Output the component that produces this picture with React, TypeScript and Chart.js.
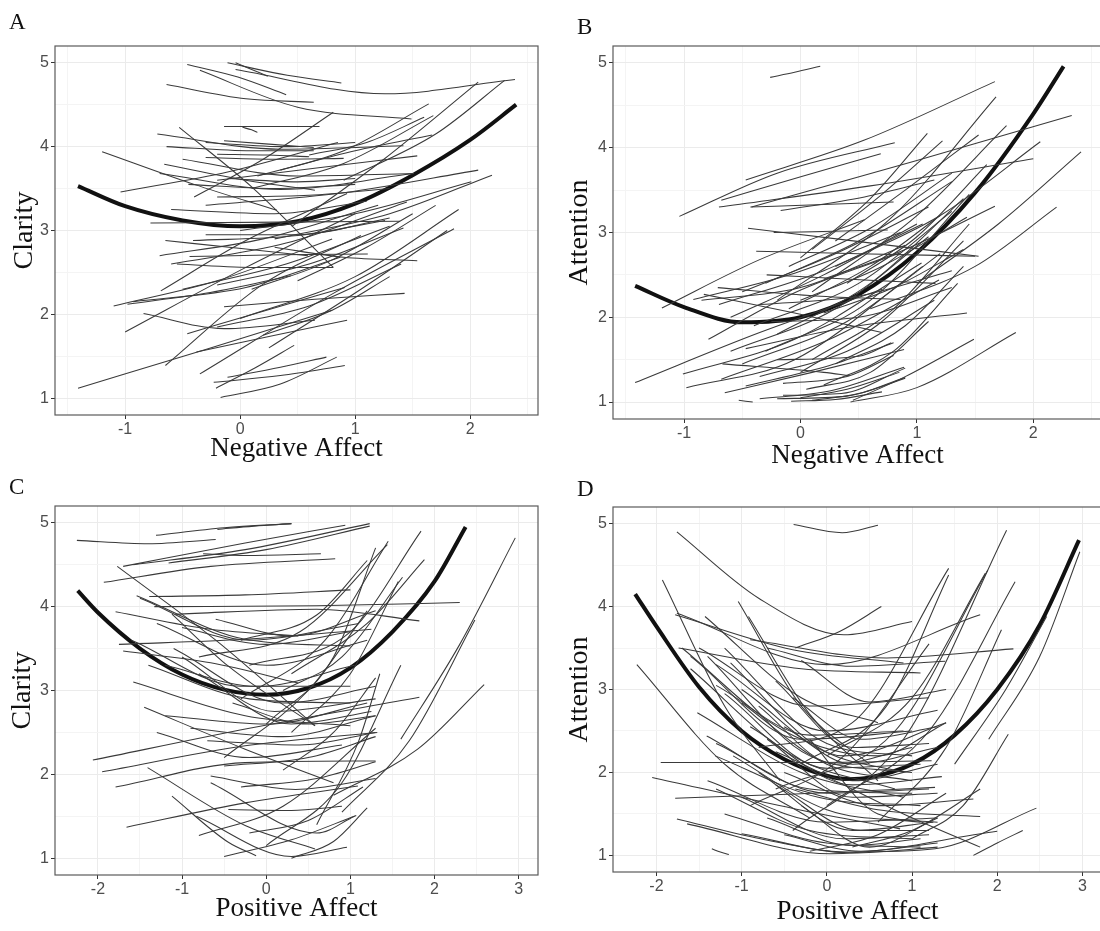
import React, { useEffect, useRef } from "react";
import { Chart, registerables } from "chart.js";

Chart.register(...registerables);

// ---------- tick values ----------
const yMajor = [1, 2, 3, 4, 5];
const yMinor = [1.5, 2.5, 3.5, 4.5];
const xMajorNeg = [-1, 0, 1, 2];
const xMinorNeg = [-1.5, -0.5, 0.5, 1.5, 2.5];
const xMajorPos = [-2, -1, 0, 1, 2, 3];
const xMinorPos = [-1.5, -0.5, 0.5, 1.5, 2.5];

// ---------- average (thick) curves: x,y pairs ----------
const meanA = [-1.41, 3.53, -1.0, 3.29, -0.5, 3.12, 0, 3.05, 0.5, 3.11, 1.0, 3.32, 1.5, 3.66, 2.0, 4.08, 2.4, 4.5];
const meanB = [-1.42, 2.37, -1.0, 2.12, -0.5, 1.94, 0, 2.0, 0.5, 2.27, 1.0, 2.76, 1.5, 3.47, 2.0, 4.4, 2.26, 4.96];
const meanC = [-2.24, 4.19, -2.0, 3.93, -1.5, 3.5, -1.0, 3.19, -0.5, 3.01, 0, 2.95, 0.5, 3.03, 1.0, 3.27, 1.5, 3.7, 2.0, 4.3, 2.37, 4.95];
const meanD = [-2.25, 4.15, -2.0, 3.76, -1.5, 3.03, -1.0, 2.5, -0.5, 2.16, 0, 1.96, 0.25, 1.92, 0.5, 1.94, 1.0, 2.1, 1.5, 2.45, 2.0, 3.0, 2.5, 3.78, 2.96, 4.8];

// ---------- individual (thin) curves: x,y pairs ----------
const thinA = [
  [-0.46, 4.98, -0.02, 4.83, 0.4, 4.62],
  [-0.11, 5.0, 0.41, 4.85, 0.88, 4.76],
  [-0.04, 5.0, 0.1, 4.92, 0.24, 4.84],
  [-0.35, 4.91, 0.5, 4.47, 1.49, 4.33],
  [-0.04, 4.92, 1.26, 4.63, 2.39, 4.8],
  [-0.64, 4.74, 0.05, 4.57, 0.64, 4.53],
  [0.45, 3.05, 1.25, 3.85, 2.07, 4.77],
  [0.9, 3.6, 1.7, 4.15, 2.3, 4.79],
  [0.15, 3.65, 0.9, 3.95, 1.64, 4.51],
  [0.1, 3.5, 0.9, 3.8, 1.68, 4.37],
  [0.35, 3.72, 1.0, 3.95, 1.67, 4.14],
  [-0.2, 3.6, 0.7, 3.75, 1.54, 3.89],
  [-0.14, 4.24, 0.28, 4.24, 0.69, 4.24],
  [0.02, 4.23, 0.1, 4.2, 0.15, 4.17],
  [-0.14, 4.07, 0.25, 4.03, 0.64, 3.99],
  [-0.72, 4.15, 0.35, 3.97, 1.42, 4.01],
  [-0.64, 4.0, 0.1, 3.95, 0.64, 3.95],
  [-0.53, 4.23, 0.1, 3.52, 0.81, 2.56],
  [-1.2, 3.94, -0.4, 3.55, 0.32, 3.24],
  [-1.04, 3.46, -0.1, 3.7, 0.85, 4.05],
  [-0.4, 3.4, 0.2, 3.85, 0.81, 4.41],
  [-0.78, 3.09, 0.35, 3.1, 1.39, 3.11],
  [-0.7, 3.68, 0.35, 3.49, 1.51, 3.68],
  [-0.66, 3.79, 0.05, 3.6, 0.65, 3.48],
  [-0.69, 2.28, 0.05, 2.88, 0.93, 3.44],
  [-0.65, 2.88, 0.05, 2.78, 0.59, 2.7],
  [-0.65, 1.39, 0.2, 2.36, 1.05, 2.94],
  [-0.55, 2.6, 0.14, 2.56, 0.81, 2.56],
  [-0.44, 2.69, 0.35, 2.71, 1.11, 2.72],
  [-1.41, 1.12, -0.3, 1.58, 0.8, 2.05],
  [-1.0, 1.79, 0.05, 2.56, 1.0, 3.2],
  [-0.98, 2.12, -0.26, 2.26, 0.44, 2.46],
  [-0.93, 2.15, 0.05, 2.32, 0.87, 2.68],
  [-0.84, 2.01, -0.14, 1.83, 0.65, 1.93],
  [-0.46, 1.77, 0.23, 2.05, 0.91, 2.32],
  [-0.38, 1.55, 0.23, 1.73, 0.93, 1.93],
  [-0.35, 1.29, 0.81, 2.25, 1.86, 3.02],
  [-0.23, 1.19, 0.35, 1.27, 0.91, 1.39],
  [-0.21, 1.12, 0.14, 1.37, 0.47, 1.63],
  [-0.17, 1.01, 0.35, 1.17, 0.84, 1.49],
  [-0.11, 1.25, 0.35, 1.37, 0.75, 1.49],
  [-0.14, 2.09, 0.65, 2.18, 1.43, 2.25],
  [0.0, 1.95, 1.0, 2.45, 1.9, 3.25],
  [0.3, 2.9, 1.3, 3.2, 2.19, 3.66],
  [0.0, 3.0, 1.0, 3.2, 2.01, 3.58],
  [-0.3, 3.3, 0.9, 3.45, 2.07, 3.72],
  [-0.6, 2.6, 0.4, 2.85, 1.45, 3.34],
  [-0.2, 2.35, 0.6, 2.6, 1.42, 3.03],
  [0.3, 2.8, 0.9, 2.68, 1.54, 2.64],
  [-0.5, 3.85, 0.5, 3.65, 1.51, 3.68],
  [-0.2, 3.91, 0.25, 3.9, 0.6, 3.88],
  [-0.41, 2.88, 0.5, 2.94, 1.26, 3.12],
  [0.25, 1.6, 1.05, 2.3, 1.8, 3.0],
  [-0.3, 3.87, 0.3, 3.85, 0.9, 3.86],
  [-0.1, 3.62, 0.5, 3.58, 1.0, 3.62],
  [-0.45, 3.55, 0.3, 3.5, 1.0, 3.55],
  [-0.2, 3.4, 0.6, 3.42, 1.3, 3.5],
  [-0.6, 3.25, 0.3, 3.2, 1.1, 3.35],
  [-0.3, 2.95, 0.5, 2.95, 1.3, 3.15],
  [-0.7, 2.7, 0.2, 2.9, 1.2, 3.3],
  [-0.5, 2.3, 0.4, 2.6, 1.3, 3.05],
  [0.1, 2.3, 0.8, 2.65, 1.5, 3.2],
  [-0.2, 1.85, 0.6, 2.1, 1.4, 2.6],
  [0.2, 1.75, 0.8, 2.05, 1.3, 2.45],
  [0.5, 2.4, 1.1, 2.8, 1.7, 3.3],
  [-1.1, 2.1, -0.2, 2.4, 0.8, 2.9],
  [0.6, 3.9, 1.1, 4.05, 1.6, 4.35],
  [-0.3, 4.05, 0.4, 4.0, 1.0, 4.05],
];

const thinB = [
  [-0.26, 4.83, -0.05, 4.89, 0.17, 4.96],
  [-0.47, 3.62, 0.55, 4.09, 1.67, 4.78],
  [-1.04, 3.19, -0.2, 3.7, 0.81, 4.06],
  [-0.68, 3.38, 0.01, 3.66, 0.69, 3.93],
  [-0.2, 2.2, 0.8, 3.2, 1.68, 4.6],
  [0.1, 2.3, 1.0, 3.2, 1.77, 4.26],
  [0.0, 2.7, 0.6, 3.4, 1.09, 4.17],
  [0.1, 2.8, 0.7, 3.45, 1.22, 4.08],
  [0.3, 2.9, 0.9, 3.5, 1.53, 4.15],
  [-0.42, 3.3, 1.0, 3.85, 2.33, 4.38],
  [-0.7, 3.3, 0.6, 3.55, 2.0, 3.87],
  [0.3, 2.6, 1.2, 3.2, 2.06, 4.07],
  [1.0, 2.4, 1.7, 3.1, 2.41, 3.95],
  [0.6, 2.1, 1.5, 2.6, 2.2, 3.3],
  [0.43, 1.0, 1.0, 1.17, 1.85, 1.82],
  [0.45, 1.02, 0.9, 1.3, 1.49, 1.74],
  [-0.47, 1.63, 0.4, 1.88, 1.43, 2.05],
  [-1.42, 1.23, -0.35, 1.82, 0.7, 2.33],
  [-0.45, 3.05, 0.4, 2.91, 1.53, 2.72],
  [-0.38, 2.78, 0.5, 2.75, 1.5, 2.72],
  [-0.23, 3.0, 0.1, 3.01, 0.75, 3.03],
  [-0.43, 3.3, 0.2, 3.33, 0.8, 3.36],
  [-0.17, 3.26, 0.55, 3.42, 1.15, 3.62],
  [-1.19, 2.11, -0.35, 2.68, 0.55, 3.15],
  [-0.92, 2.21, -0.05, 2.52, 0.86, 3.0],
  [-0.83, 2.27, -0.05, 2.05, 0.7, 1.82],
  [-0.71, 2.35, 0.13, 2.25, 0.86, 2.21],
  [-0.79, 1.74, -0.05, 2.29, 0.86, 2.76],
  [-0.29, 2.5, 0.55, 2.44, 1.16, 2.4],
  [-1.01, 1.33, -0.05, 1.74, 1.04, 2.64],
  [-0.98, 1.17, -0.05, 1.5, 1.05, 2.6],
  [-0.68, 1.27, 0.25, 1.74, 1.19, 2.44],
  [-0.65, 1.11, 0.1, 1.35, 0.89, 1.62],
  [-0.53, 1.02, -0.47, 1.01, -0.41, 1.0],
  [-0.47, 1.19, 0.25, 1.43, 0.8, 1.7],
  [-0.35, 1.04, 0.25, 1.13, 0.89, 1.41],
  [-0.2, 1.04, 0.4, 1.07, 0.9, 1.29],
  [-0.2, 1.5, 0.5, 1.54, 0.78, 1.7],
  [-0.67, 1.45, 0.2, 1.35, 0.42, 1.31],
  [-0.3, 1.6, 0.6, 2.2, 1.45, 3.45],
  [-0.2, 1.8, 0.6, 2.4, 1.4, 3.4],
  [-0.4, 1.9, 0.5, 2.4, 1.3, 3.25],
  [-0.1, 2.1, 0.6, 2.6, 1.2, 3.2],
  [0.0, 1.35, 0.7, 1.95, 1.4, 2.9],
  [0.2, 1.2, 0.8, 1.6, 1.35, 2.4],
  [-0.5, 2.3, 0.3, 2.75, 1.1, 3.3],
  [-0.6, 2.0, 0.2, 2.5, 1.0, 3.1],
  [0.2, 2.45, 0.9, 2.8, 1.67, 3.31],
  [0.0, 2.2, 0.7, 2.6, 1.43, 3.18],
  [0.0, 1.05, 0.4, 1.15, 0.85, 1.35],
  [-0.15, 1.08, 0.35, 1.1, 0.9, 1.4],
  [0.1, 1.02, 0.5, 1.1, 0.9, 1.28],
  [-0.08, 1.01, 0.3, 1.03, 0.7, 1.12],
  [-0.6, 1.6, 0.3, 2.1, 1.1, 2.95],
  [-0.5, 1.45, 0.4, 1.95, 1.2, 2.75],
  [0.1, 1.5, 0.8, 2.1, 1.45, 3.1],
  [0.3, 1.45, 0.9, 1.9, 1.4, 2.6],
  [-0.3, 2.4, 0.5, 2.9, 1.3, 3.6],
  [-0.1, 2.6, 0.6, 3.05, 1.3, 3.7],
  [-0.7, 2.15, 0.2, 2.55, 1.05, 3.1],
  [0.4, 2.4, 1.0, 2.95, 1.6, 3.8],
  [-0.35, 1.3, 0.4, 1.6, 1.15, 2.2],
  [0.05, 1.15, 0.6, 1.35, 1.1, 1.95],
  [-0.15, 1.22, 0.4, 1.3, 0.8, 1.55],
  [-0.85, 2.2, 0.0, 2.35, 0.9, 2.85],
  [-0.35, 2.15, 0.5, 2.25, 1.3, 2.55],
  [0.2, 2.05, 0.8, 2.35, 1.4, 2.8],
  [-0.25, 1.95, 0.5, 2.0, 1.3, 2.35],
];

const thinC = [
  [-2.25, 4.79, -1.4, 4.75, -0.6, 4.8],
  [-1.31, 4.85, -0.5, 4.94, 0.3, 4.99],
  [-0.58, 4.92, -0.15, 4.96, 0.3, 4.99],
  [-1.7, 4.48, -0.25, 4.76, 0.94, 4.97],
  [-1.58, 4.5, -0.25, 4.68, 1.23, 4.99],
  [-0.75, 4.63, -0.25, 4.61, 0.65, 4.63],
  [-1.93, 4.29, -0.66, 4.48, 0.82, 4.57],
  [-1.16, 4.52, 0.0, 4.68, 1.23, 4.96],
  [-1.77, 4.48, -0.6, 3.6, 0.58, 2.58],
  [-1.39, 4.12, -0.25, 4.14, 1.0, 4.2],
  [-1.33, 4.0, 0.6, 4.01, 2.3, 4.05],
  [-1.08, 3.91, 0.6, 3.97, 1.82, 3.83],
  [-1.79, 3.94, -0.66, 3.73, 0.38, 3.65],
  [-1.54, 4.13, -0.25, 3.61, 1.0, 3.53],
  [-1.75, 3.55, -0.25, 3.61, 1.25, 3.73],
  [-1.7, 3.47, -0.66, 3.33, 0.38, 3.09],
  [-1.12, 3.91, -0.45, 3.29, 0.58, 2.58],
  [-1.58, 3.1, -0.25, 2.7, 1.0, 2.58],
  [-1.45, 2.8, -0.25, 2.3, 0.8, 1.9],
  [-2.06, 2.17, -0.2, 2.55, 1.82, 2.92],
  [-1.95, 2.03, -0.25, 2.34, 1.32, 2.5],
  [-1.79, 1.85, -0.25, 2.14, 1.3, 2.16],
  [-1.66, 1.37, -0.25, 1.66, 1.09, 1.86],
  [-1.12, 1.74, -0.45, 1.19, -0.12, 1.03],
  [-1.41, 2.08, -0.25, 1.39, 0.58, 1.11],
  [-0.5, 1.02, 0.3, 1.22, 1.07, 1.51],
  [-0.8, 1.27, 0.2, 1.62, 1.3, 2.55],
  [-0.83, 1.5, 0.3, 1.02, 0.96, 1.13],
  [-0.66, 1.9, 0.6, 1.3, 1.05, 1.5],
  [0.9, 1.55, 1.7, 2.4, 2.48, 3.84],
  [0.8, 1.75, 1.8, 2.3, 2.59, 3.07],
  [1.6, 2.42, 2.3, 3.55, 2.96, 4.82],
  [-0.2, 3.3, 1.0, 3.7, 1.84, 4.9],
  [0.3, 3.2, 1.2, 3.8, 1.88, 4.56],
  [-0.3, 2.9, 0.7, 3.6, 1.45, 4.78],
  [0.0, 2.6, 0.8, 3.4, 1.3, 4.7],
  [0.3, 2.5, 1.0, 3.2, 1.57, 4.3],
  [-0.5, 2.2, 0.5, 3.0, 1.2, 3.95],
  [-1.5, 4.1, -0.2, 3.6, 1.1, 3.8],
  [-1.3, 3.8, 0.0, 3.3, 1.2, 3.6],
  [-1.1, 3.5, 0.2, 2.85, 1.3, 3.05],
  [-1.0, 3.4, 0.1, 2.75, 1.3, 2.9],
  [-0.8, 3.2, 0.3, 2.6, 1.25, 2.75],
  [-0.66, 1.98, 0.35, 1.82, 1.3, 1.95],
  [-0.45, 1.58, 0.3, 1.57, 0.9, 1.62],
  [-0.8, 3.4, 0.4, 3.7, 1.44, 4.74],
  [-0.3, 3.6, 0.6, 3.9, 1.2, 4.55],
  [0.2, 3.0, 0.9, 3.4, 1.62, 4.35],
  [0.0, 1.15, 0.9, 1.9, 1.6, 3.3],
  [0.6, 1.4, 1.1, 2.4, 1.35, 3.2],
  [-1.6, 3.6, -0.3, 3.05, 1.0, 3.05],
  [-1.4, 3.3, -0.2, 2.9, 1.0, 2.85],
  [-1.2, 2.7, 0.0, 2.6, 1.2, 2.85],
  [-0.9, 2.55, 0.2, 2.45, 1.3, 2.7],
  [-0.7, 2.4, 0.4, 2.35, 1.3, 2.5],
  [-0.5, 2.1, 0.5, 2.2, 1.3, 2.45],
  [-1.3, 2.5, -0.2, 2.2, 0.9, 2.35],
  [-0.3, 1.85, 0.6, 1.95, 1.3, 2.15],
  [-1.0, 3.75, 0.0, 3.55, 1.0, 3.7],
  [-0.6, 3.85, 0.3, 3.65, 1.3, 3.95],
  [-1.2, 3.3, -0.1, 3.05, 1.05, 3.3],
  [-0.4, 2.85, 0.5, 2.6, 1.3, 2.7],
  [0.2, 2.05, 0.8, 2.5, 1.3, 3.15],
  [-0.2, 1.3, 0.5, 1.45, 1.15, 1.85],
  [0.3, 1.0, 0.8, 1.2, 1.2, 1.6],
];

const thinD = [
  [-0.39, 4.99, 0.18, 4.89, 0.6, 4.98],
  [-1.76, 4.9, -0.8, 4.1, 0.2, 3.66, 1.0, 3.82],
  [-0.37, 3.5, 0.15, 3.7, 0.64, 4.0],
  [-1.93, 4.32, -1.2, 2.8, -0.55, 1.9],
  [-2.23, 3.3, -1.2, 2.1, -0.2, 1.45],
  [-2.05, 1.94, -0.37, 1.56, 0.86, 1.32],
  [-1.95, 2.12, -0.2, 2.12, 1.23, 2.14],
  [-1.78, 1.69, -0.37, 1.74, 1.27, 1.82],
  [-1.76, 1.44, -0.78, 1.2, 0.25, 1.04, 1.27, 1.08, 2.46, 1.57],
  [-1.64, 1.38, 0.04, 1.02, 2.0, 1.29],
  [-1.35, 1.08, -1.25, 1.04, -1.15, 1.01],
  [1.72, 1.0, 2.0, 1.15, 2.3, 1.3],
  [0.0, 1.95, 0.9, 1.5, 1.8, 1.1],
  [-0.4, 1.3, 0.9, 2.4, 2.11, 4.92],
  [-0.6, 1.8, 0.8, 2.5, 1.89, 4.44],
  [0.0, 2.2, 1.0, 2.9, 1.86, 4.4],
  [-0.8, 2.3, 0.3, 2.6, 1.43, 4.46],
  [-0.3, 2.1, 0.7, 2.8, 1.43, 4.38],
  [0.0, 1.6, 1.2, 2.5, 2.21, 4.3],
  [0.6, 1.4, 1.4, 2.3, 2.05, 3.72],
  [1.0, 1.2, 1.6, 1.6, 2.13, 2.46],
  [-0.9, 3.6, 0.7, 3.38, 2.19, 3.49],
  [-0.7, 3.5, 0.3, 3.28, 1.39, 3.34],
  [1.9, 2.4, 2.5, 3.4, 2.97, 4.66],
  [1.5, 2.1, 2.1, 3.0, 2.58, 3.88],
  [-0.37, 1.8, 0.6, 1.55, 1.8, 1.47],
  [-0.5, 2.0, 0.6, 1.6, 1.72, 1.68],
  [-1.78, 3.9, -0.4, 3.48, 0.9, 3.32],
  [-1.5, 3.5, -0.2, 2.8, 1.2, 2.9],
  [-1.3, 3.3, 0.0, 2.5, 1.3, 2.75],
  [-1.0, 3.0, 0.2, 2.2, 1.4, 2.6],
  [-0.8, 2.8, 0.1, 2.1, 1.0, 2.3],
  [-1.6, 3.4, -0.3, 2.4, 1.0, 2.5],
  [-1.04, 4.06, -0.3, 2.8, 0.5, 2.1],
  [-0.92, 3.88, -0.2, 2.7, 0.6, 1.9],
  [-1.13, 3.32, -0.1, 2.3, 0.9, 2.0],
  [-1.52, 2.72, -0.3, 2.0, 0.9, 1.7],
  [-1.41, 2.44, -0.2, 1.8, 1.0, 1.75],
  [-1.31, 2.2, -0.1, 1.7, 1.1, 1.6],
  [-1.43, 3.88, -0.3, 2.9, 0.6, 2.6],
  [-1.0, 2.84, 0.0, 2.1, 1.0, 1.9],
  [-0.5, 2.55, 0.3, 2.1, 1.3, 2.3],
  [-0.6, 2.25, 0.3, 1.9, 1.3, 2.1],
  [-1.4, 1.9, 0.0, 1.4, 1.3, 1.45],
  [-1.3, 1.8, -0.2, 1.3, 1.0, 1.2],
  [-1.0, 1.7, 0.2, 1.2, 1.2, 1.25],
  [-0.5, 1.25, 0.4, 1.05, 1.3, 1.15],
  [-1.0, 1.26, 0.3, 1.03, 1.3, 1.1],
  [-0.3, 1.6, 0.5, 1.1, 1.3, 1.45],
  [-0.8, 2.0, 0.3, 1.3, 1.25, 1.4],
  [-0.2, 2.4, 0.6, 1.5, 1.3, 1.4],
  [-0.9, 1.6, 0.2, 2.2, 1.2, 3.55],
  [-1.76, 3.92, 0.0, 3.3, 1.8, 3.9],
  [-1.74, 3.5, -0.3, 3.25, 1.1, 3.2],
  [-1.7, 3.5, -0.5, 2.5, 0.6, 2.2, 1.4, 2.6],
  [-1.4, 3.4, -0.2, 2.2, 1.0, 2.0],
  [-1.2, 2.95, 0.0, 2.05, 1.1, 2.1],
  [-0.9, 2.55, 0.3, 1.85, 1.35, 1.95],
  [-1.6, 3.25, -0.4, 2.2, 0.8, 1.8],
  [-1.2, 3.5, 0.0, 2.35, 1.0, 2.2],
  [-0.6, 3.1, 0.3, 2.3, 1.2, 2.35],
  [-0.4, 2.9, 0.4, 2.4, 1.3, 2.55],
  [-0.7, 2.4, 0.3, 1.7, 1.3, 1.75],
  [-1.1, 2.2, 0.0, 1.55, 1.1, 1.4],
  [-0.6, 1.85, 0.4, 1.3, 1.2, 1.3],
  [-1.2, 1.5, 0.0, 1.15, 1.1, 1.1],
  [-0.7, 1.45, 0.3, 1.12, 1.1, 1.2],
  [-1.3, 3.05, -0.2, 2.45, 0.9, 2.5],
  [-0.3, 3.35, 0.5, 2.85, 1.4, 3.0],
  [-1.3, 2.35, 0.0, 1.75, 1.2, 1.8],
  [0.3, 1.1, 1.0, 1.3, 1.8, 1.8],
  [-0.2, 1.05, 0.6, 1.25, 1.4, 1.75],
];

// ---------- helpers ----------
function toPts(flat: number[]) {
  const pts: { x: number; y: number }[] = [];
  for (let i = 0; i < flat.length; i += 2) pts.push({ x: flat[i], y: flat[i + 1] });
  return pts;
}
const isMajor = (v: number) => Math.abs(v - Math.round(v)) < 1e-6;

const framePlugin = {
  id: "frame",
  afterDraw(chart: any) {
    const { ctx, chartArea } = chart;
    const { left, top, right, bottom } = chartArea;
    ctx.save();
    ctx.strokeStyle = "#5a5a5a";
    ctx.lineWidth = 1.2;
    ctx.strokeRect(left, top, right - left, bottom - top);
    ctx.restore();
  },
};

interface PanelProps {
  left: number;
  top: number;
  w: number;
  h: number;
  yWidth: number;
  xHeight: number;
  padTop: number;
  padRight: number;
  xTitle: string;
  yTitle: string;
  xTitlePad: number;
  yTitlePad: number;
  xMin: number;
  xMax: number;
  xMajor: number[];
  xMinor: number[];
  thin: number[][];
  mean: number[];
}

function Panel(p: PanelProps) {
  const ref = useRef<HTMLCanvasElement>(null);
  useEffect(() => {
    const canvas = ref.current as HTMLCanvasElement;
    const datasets: any[] = p.thin.map((flat) => ({
      data: toPts(flat),
      borderColor: "#3a3a3a",
      borderWidth: 1.05,
      pointRadius: 0,
      cubicInterpolationMode: "monotone",
      fill: false,
    }));
    datasets.push({
      data: toPts(p.mean),
      borderColor: "#111111",
      borderWidth: 4,
      pointRadius: 0,
      cubicInterpolationMode: "monotone",
      fill: false,
    });
    const gridColor = (c: any) => (c.tick && isMajor(c.tick.value) ? "#EBEBEB" : "#F4F4F4");
    const tickColor = (c: any) => (c.tick && isMajor(c.tick.value) ? "#333333" : "rgba(0,0,0,0)");
    const tickFont = { family: "'Liberation Sans', Arial, sans-serif", size: 16 };
    const titleFont = { family: "'Liberation Serif', 'Times New Roman', serif", size: 27 };
    const chart = new Chart(canvas, {
      type: "line",
      data: { datasets },
      options: {
        responsive: false,
        animation: false,
        devicePixelRatio: 1,
        events: [],
        layout: { padding: { top: p.padTop, right: p.padRight, left: 0, bottom: 0 } },
        plugins: { legend: { display: false }, tooltip: { enabled: false } },
        scales: {
          x: {
            type: "linear",
            min: p.xMin,
            max: p.xMax,
            afterBuildTicks: (s: any) => {
              s.ticks = [...p.xMajor, ...p.xMinor].sort((a, b) => a - b).map((v) => ({ value: v }));
            },
            afterFit: (s: any) => {
              s.height = p.xHeight;
            },
            border: { display: false },
            grid: { color: gridColor, tickColor, lineWidth: 1, tickLength: 4, drawTicks: true },
            ticks: {
              callback: (v: any) => (isMajor(Number(v)) ? String(Math.round(Number(v))) : ""),
              color: "#4D4D4D",
              font: tickFont,
              padding: 1,
              maxRotation: 0,
              autoSkip: false,
            },
            title: {
              display: true,
              text: p.xTitle,
              color: "#111111",
              font: titleFont,
              padding: { top: 0, bottom: p.xTitlePad },
            },
          },
          y: {
            type: "linear",
            min: 0.8,
            max: 5.2,
            afterBuildTicks: (s: any) => {
              s.ticks = [...yMajor, ...yMinor].sort((a, b) => a - b).map((v) => ({ value: v }));
            },
            afterFit: (s: any) => {
              s.width = p.yWidth;
            },
            border: { display: false },
            grid: { color: gridColor, tickColor, lineWidth: 1, tickLength: 4, drawTicks: true },
            ticks: {
              callback: (v: any) => (isMajor(Number(v)) ? String(Math.round(Number(v))) : ""),
              color: "#4D4D4D",
              font: tickFont,
              padding: 2,
              autoSkip: false,
            },
            title: {
              display: true,
              text: p.yTitle,
              color: "#111111",
              font: { ...titleFont, size: 28 },
              padding: { top: p.yTitlePad, bottom: 0 },
            },
          },
        },
      } as any,
      plugins: [framePlugin],
    });
    return () => chart.destroy();
  }, []);
  return (
    <canvas
      ref={ref}
      width={p.w}
      height={p.h}
      style={{ position: "absolute", left: p.left, top: p.top, width: p.w, height: p.h }}
    />
  );
}

const letterStyle = (left: number, top: number): React.CSSProperties => ({
  position: "absolute",
  left,
  top,
  fontFamily: "'Liberation Serif', 'Times New Roman', serif",
  fontSize: 23,
  lineHeight: "23px",
  color: "#111",
});

export default function App() {
  return (
    <div style={{ position: "absolute", left: 0, top: 0, width: 1100, height: 931, overflow: "hidden", background: "#fff" }}>
      <Panel left={0} top={0} w={545} h={475} yWidth={55} xHeight={60} padTop={46} padRight={7}
        xTitle="Negative Affect" yTitle="Clarity" xTitlePad={9.8} yTitlePad={8}
        xMin={-1.61} xMax={2.59} xMajor={xMajorNeg} xMinor={xMinorNeg} thin={thinA} mean={meanA} />
      <Panel left={558} top={0} w={562} h={475} yWidth={55} xHeight={56} padTop={46} padRight={18}
        xTitle="Negative Affect" yTitle="Attention" xTitlePad={2.8} yTitlePad={5.2}
        xMin={-1.61} xMax={2.59} xMajor={xMajorNeg} xMinor={xMinorNeg} thin={thinB} mean={meanB} />
      <Panel left={0} top={460} w={545} h={471} yWidth={55} xHeight={56} padTop={46} padRight={7}
        xTitle="Positive Affect" yTitle="Clarity" xTitlePad={5.8} yTitlePad={6}
        xMin={-2.51} xMax={3.23} xMajor={xMajorPos} xMinor={xMinorPos} thin={thinC} mean={meanC} />
      <Panel left={558} top={460} w={562} h={471} yWidth={55} xHeight={59} padTop={47} padRight={18}
        xTitle="Positive Affect" yTitle="Attention" xTitlePad={2.8} yTitlePad={5.2}
        xMin={-2.51} xMax={3.23} xMajor={xMajorPos} xMinor={xMinorPos} thin={thinD} mean={meanD} />
      <div style={letterStyle(9, 10)}>A</div>
      <div style={letterStyle(577, 15)}>B</div>
      <div style={letterStyle(9, 475)}>C</div>
      <div style={letterStyle(577, 477)}>D</div>
    </div>
  );
}
